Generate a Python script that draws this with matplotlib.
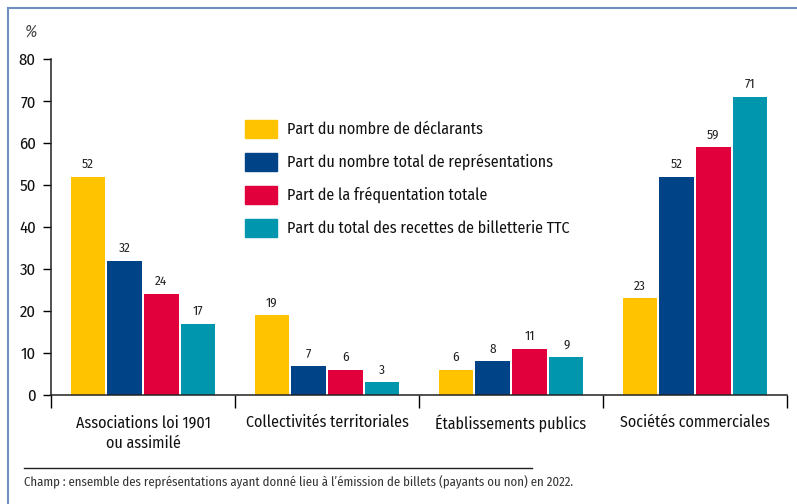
import numpy as np
import matplotlib.pyplot as plt
from matplotlib.patches import Rectangle
from matplotlib.lines import Line2D

plt.rcParams['font.family'] = ['Fira Sans Condensed', 'Archivo Narrow', 'DejaVu Sans']

# Data
categories = ['Associations loi 1901\nou assimilé', 'Collectivités territoriales',
              'Établissements publics', 'Sociétés commerciales']
series_names = ['Part du nombre de déclarants',
                'Part du nombre total de représentations',
                'Part de la fréquentation totale',
                'Part du total des recettes de billetterie TTC']
declarants = [52, 19, 6, 23]
representations = [32, 7, 8, 52]
frequentation = [24, 6, 11, 59]
recettes = [17, 3, 9, 71]
yticks = [0, 10, 20, 30, 40, 50, 60, 70, 80]

colors = ['#FFC300', '#004387', '#E2003C', '#0096AD']
series = [declarants, representations, frequentation, recettes]

fig = plt.figure(figsize=(7.97, 5.04), dpi=100)
ax = fig.add_axes([51 / 797, 1 - 395 / 504, (787 - 51) / 797, (395 - 59) / 504])

centers = np.arange(len(categories)) + 0.5
offsets = [-0.3, -0.1, 0.1, 0.3]
for vals, col, off in zip(series, colors, offsets):
    bars = ax.bar(centers + off, vals, width=0.186, color=col, zorder=2)
    for b, v in zip(bars, vals):
        ax.annotate(str(v), (b.get_x() + b.get_width() / 2, v),
                    xytext=(0, 4.5), textcoords='offset points',
                    ha='center', va='bottom', fontsize=9.5, color='#222222')

ax.set_xlim(0, 4)
ax.set_ylim(0, 80)
ax.set_yticks(yticks)
ax.set_yticklabels([str(t) for t in yticks], fontsize=12, color='#111111')
ax.set_xticks([0, 1, 2, 3, 4])
ax.set_xticklabels([])
ax.tick_params(axis='y', length=6, width=1, direction='out', pad=5)
ax.tick_params(axis='x', length=9, width=1, direction='out')
for s in ['top', 'right']:
    ax.spines[s].set_visible(False)
for s in ['left', 'bottom']:
    ax.spines[s].set_linewidth(1.1)
    ax.spines[s].set_color('#222222')

for c, lab in zip(centers, categories):
    ax.text(c, -4.6, lab, ha='center', va='top', fontsize=11.5,
            color='#111111', linespacing=1.4)

ax.text(-0.11, 84.5, '%', fontsize=12, style='italic', color='#444444',
        ha='center', va='bottom')

# Legend drawn manually in figure pixels
for i, (name, col) in enumerate(zip(series_names, colors)):
    yc = 504 - (129 + 33 * i)
    fig.patches.append(Rectangle((245 / 797, (yc - 9) / 504), 32 / 797, 18 / 504,
                                 transform=fig.transFigure, color=col))
    fig.text(287 / 797, yc / 504, name, fontsize=11.5, color='#111111',
             va='center', ha='left')

# Frame and footnote
fig.add_artist(Line2D([8 / 797, 1], [1 - 8 / 504, 1 - 8 / 504], color='#6F8FC0', lw=1.5))
fig.add_artist(Line2D([8 / 797, 8 / 797], [0, 1 - 8 / 504], color='#6F8FC0', lw=1.5))
fig.add_artist(Line2D([24 / 797, 532 / 797], [1 - 468 / 504, 1 - 468 / 504], color='#222222', lw=1))
fig.text(24 / 797, 1 - 482 / 504,
         "Champ : ensemble des représentations ayant donné lieu à l’émission de billets (payants ou non) en 2022.",
         fontsize=9.2, color='#333333', va='center', ha='left')

fig.savefig('out.png', dpi=100)
